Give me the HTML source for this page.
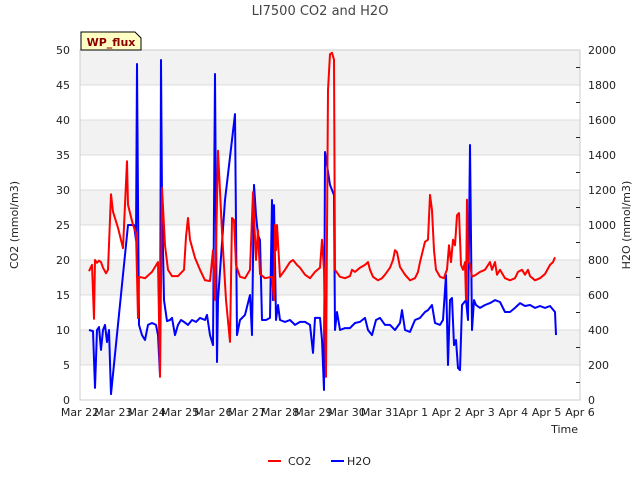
<!DOCTYPE html>
<html><head><meta charset="utf-8"><style>
body{margin:0;background:#fff;font-family:"Liberation Sans",sans-serif}
svg text{font-family:"DejaVu Sans","Liberation Sans",sans-serif}
</style></head><body>
<svg id="chart" width="640" height="480" xmlns="http://www.w3.org/2000/svg">
<text x="320" y="15" text-anchor="middle" font-size="13" fill="#444">LI7500 CO2 and H2O</text>
<g id="bands"></g>
<g id="grid"></g>
<rect x="80" y="50" width="500" height="350" fill="none" stroke="#ccc"/>
<g id="axes"></g>
<g id="series"></g>
<text transform="translate(18,225) rotate(-90)" text-anchor="middle" font-size="11" fill="#222">CO2 (mmol/m3)</text>
<text transform="translate(630,225) rotate(-90)" text-anchor="middle" font-size="11" fill="#222">H2O (mmol/m3)</text>
<text x="578" y="433" text-anchor="end" font-size="11" fill="#222">Time</text>
<g>
<path d="M81,50 L81,32 L135,32 L141,38 L141,50 Z" fill="#ffffc4" stroke="#000" stroke-width="1"/>
<text x="111" y="46" text-anchor="middle" font-size="11" font-weight="bold" fill="#8b0000">WP_flux</text>
</g>
<g>
<g><line x1="268" y1="461" x2="281" y2="461" stroke="#f00" stroke-width="2"/><text x="288" y="465" font-size="11" fill="#222">CO2</text></g>
<g><line x1="331" y1="461" x2="344" y2="461" stroke="#00f" stroke-width="2"/><text x="347" y="465" font-size="11" fill="#222">H2O</text></g>
</g>
</svg>
<script>
const xTickLabels=["Mar 22","Mar 23","Mar 24","Mar 25","Mar 26","Mar 27","Mar 28","Mar 29","Mar 30","Mar 31","Apr 1","Apr 2","Apr 3","Apr 4","Apr 5","Apr 6"];
const leftTicks=[0,5,10,15,20,25,30,35,40,45,50];
const rightTicks=[0,200,400,600,800,1000,1200,1400,1600,1800,2000];
const co2Days=[0.27,0.36,0.42,0.45,0.51,0.57,0.63,0.69,0.78,0.84,0.93,0.99,1.14,1.29,1.41,1.44,1.59,1.68,1.74,1.77,1.95,2.16,2.34,2.4,2.46,2.55,2.64,2.76,2.94,3.12,3.18,3.24,3.3,3.45,3.6,3.75,3.9,3.99,4.05,4.14,4.26,4.38,4.5,4.56,4.62,4.68,4.8,4.95,5.1,5.19,5.28,5.34,5.4,5.55,5.76,5.82,5.85,5.88,5.91,6,6.15,6.3,6.39,6.51,6.6,6.75,6.9,7.05,7.2,7.26,7.32,7.38,7.44,7.5,7.56,7.62,7.65,7.8,7.95,8.1,8.16,8.25,8.4,8.55,8.64,8.7,8.79,8.94,9.06,9.15,9.3,9.39,9.45,9.51,9.6,9.75,9.9,10.05,10.14,10.2,10.35,10.44,10.5,10.56,10.62,10.68,10.8,10.92,10.98,11.01,11.07,11.13,11.19,11.25,11.31,11.37,11.43,11.49,11.55,11.58,11.61,11.64,11.7,11.76,11.88,12,12.15,12.3,12.36,12.45,12.51,12.6,12.75,12.9,13.05,13.14,13.26,13.35,13.44,13.5,13.65,13.8,13.95,14.1,14.19,14.25];
const co2Values=[18.4,19.3,11.6,20,19.6,19.9,19.7,18.9,18.1,18.6,29.4,26.9,24.6,21.7,34.1,27.9,25,23.9,11.7,17.6,17.4,18.3,19.7,3.3,30.3,22.1,18.6,17.7,17.7,18.6,23.3,26,22.9,20.3,18.6,17.1,17,21.4,14.3,35.6,24,14.3,8.3,26,25.7,19.3,17.6,17.4,18.6,29.7,20,24.3,18,17.4,17.6,14.3,25,21.4,25,17.6,18.6,19.7,20,19.3,18.9,17.9,17.4,18.3,18.9,22.9,18.6,3.3,44.3,49.4,49.6,48.6,18.6,17.6,17.4,17.7,18.6,18.3,18.9,19.3,19.7,18.6,17.6,17.1,17.4,17.9,18.9,20,21.4,21.1,19,17.9,17.1,17.4,18.3,19.7,22.6,22.9,29.3,27.1,21.4,18.6,17.6,17.4,18.3,18.6,22.1,19.7,22.9,22.1,26.4,26.7,19.3,18.6,19.7,14.3,28.6,20,19.3,17.6,17.9,18.3,18.6,19.7,18.6,19.7,17.9,18.6,17.4,17.1,17.4,18.3,18.6,17.9,18.6,17.7,17.1,17.4,18,19.3,19.7,20.4];
const h2oDays=[0.27,0.39,0.45,0.51,0.57,0.63,0.69,0.75,0.81,0.87,0.93,1.44,1.62,1.68,1.71,1.74,1.77,1.86,1.95,2.04,2.16,2.28,2.34,2.4,2.43,2.46,2.52,2.61,2.7,2.76,2.85,2.94,3.03,3.12,3.24,3.36,3.48,3.6,3.75,3.81,3.9,3.99,4.05,4.11,4.14,4.35,4.65,4.71,4.8,4.95,5.1,5.16,5.22,5.28,5.34,5.4,5.46,5.58,5.7,5.76,5.79,5.82,5.88,5.94,6,6.15,6.3,6.45,6.6,6.75,6.9,6.99,7.05,7.2,7.26,7.32,7.35,7.5,7.62,7.65,7.71,7.8,7.95,8.1,8.25,8.4,8.55,8.64,8.76,8.88,9,9.15,9.3,9.45,9.6,9.66,9.75,9.9,10.05,10.2,10.35,10.44,10.56,10.65,10.8,10.89,10.98,11.04,11.1,11.16,11.22,11.28,11.34,11.4,11.46,11.58,11.64,11.7,11.76,11.82,11.88,12,12.15,12.3,12.45,12.6,12.75,12.9,13.05,13.2,13.35,13.5,13.65,13.8,13.95,14.1,14.25,14.28];
const h2oValues=[400,394,69,400,417,286,400,429,331,400,34,1000,1000,914,1920,1143,429,371,343,429,440,429,371,143,1943,1143,571,451,457,469,371,429,457,446,429,457,446,469,457,486,371,314,1863,217,571,1143,1634,371,457,486,600,371,1229,1057,943,914,457,457,469,1143,571,1114,457,543,457,446,457,429,446,446,429,269,469,469,343,57,1417,1229,1171,400,503,400,411,411,440,446,469,400,371,457,469,429,429,400,440,514,400,389,457,469,503,514,543,440,429,457,714,200,571,583,314,343,183,171,543,571,457,1457,400,571,543,526,543,554,571,560,503,503,526,554,537,543,526,537,526,537,503,371];

const NS="http://www.w3.org/2000/svg";
const X0=80,X1=580,Y0=400,Y1=50;
const xScale=d=>X0+d*(X1-X0)/15;
const yL=v=>Y0-v*(Y0-Y1)/50;
const yR=v=>Y0-v*(Y0-Y1)/2000;
function mk(tag,attrs,parent){const e=document.createElementNS(NS,tag);for(const k in attrs)e.setAttribute(k,attrs[k]);parent.appendChild(e);return e;}
const bands=document.getElementById('bands'),grid=document.getElementById('grid'),axes=document.getElementById('axes'),series=document.getElementById('series');
for(let i=0;i<leftTicks.length-1;i++){
  if(i%2===1){const r=mk('rect',{x:X0,y:yL(leftTicks[i+1]),width:X1-X0,height:yL(leftTicks[i])-yL(leftTicks[i+1]),fill:'#f2f2f2'},bands);
  
  }
}
leftTicks.forEach(v=>{
  const l=mk('line',{x1:X0,x2:X1,y1:yL(v),y2:yL(v),stroke:'#dcdcdc'},grid);
  
  
  const t=mk('text',{x:X0-10,y:yL(v)+4,'text-anchor':'end','font-size':'11',fill:'#222'},axes);t.textContent=v;
  
  
});
rightTicks.forEach(v=>{
  const t=mk('text',{x:X1+8,y:yR(v)+4,'font-size':'11',fill:'#222'},axes);t.textContent=v;
  
  
});
for(let v=100;v<2000;v+=200){
  const l=mk('line',{x1:X1,x2:X1-4,y1:yR(v),y2:yR(v),stroke:'#222'},axes);
  
  
}
xTickLabels.forEach((s,i)=>{
  const t=mk('text',{x:xScale(i),y:416,'text-anchor':'middle','font-size':'11',fill:'#222'},axes);t.textContent=s;
  
  
});
function line(days,vals,ys,color,name){
  const d=days.map((x,i)=>(i?'L':'M')+xScale(x).toFixed(1)+','+ys(vals[i]).toFixed(1)).join('');
  const p=mk('path',{d:d,fill:'none',stroke:color,'stroke-width':'2','stroke-linejoin':'round'},series);
  
  
}
line(h2oDays,h2oValues,yR,'#0000ff','h2o-line');
line(co2Days,co2Values,yL,'#ff0000','co2-line');
</script>
</body></html>
